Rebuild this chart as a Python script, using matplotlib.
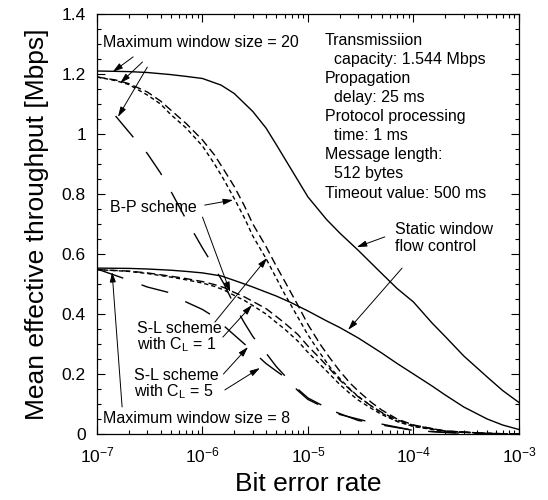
import math
import matplotlib
matplotlib.use("Agg")
import matplotlib.pyplot as plt
from matplotlib.ticker import MultipleLocator, LogLocator, FuncFormatter, NullFormatter

plt.rcParams["font.family"] = "Liberation Sans"
plt.rcParams["mathtext.fontset"] = "custom"
plt.rcParams["mathtext.rm"] = "Liberation Sans"
plt.rcParams["mathtext.it"] = "Liberation Sans:italic"

# static window flow control (solid lines)
ber_static = [1e-7, 2e-7, 3e-7, 5e-7, 7e-7, 1e-6, 1.5e-6, 2e-6, 3e-6, 4e-6, 5e-6, 7e-6,
              1e-5, 1.5e-5, 2e-5, 3e-5, 5e-5, 7e-5, 1e-4, 1.5e-4, 2e-4, 3e-4, 5e-4, 7e-4, 1e-3]
static_w20 = [1.210, 1.208, 1.205, 1.198, 1.192, 1.185, 1.163, 1.135, 1.075, 1.02, 0.965, 0.88,
              0.79, 0.715, 0.67, 0.612, 0.535, 0.485, 0.44, 0.37, 0.325, 0.26, 0.19, 0.145, 0.105]
static_w8 = [0.553, 0.552, 0.550, 0.546, 0.542, 0.537, 0.527, 0.512, 0.49, 0.473, 0.46, 0.437,
             0.41, 0.377, 0.355, 0.32, 0.27, 0.235, 0.20, 0.16, 0.13, 0.09, 0.05, 0.03, 0.015]

# max window size = 20, B-P scheme and S-L scheme C_L = 1
ber_w20 = [1e-7, 1.5e-7, 2e-7, 3e-7, 4e-7, 5e-7, 7e-7, 1e-6, 1.3e-6, 1.6e-6, 2e-6, 2.5e-6,
           3e-6, 4e-6, 5e-6, 6e-6, 8e-6, 1e-5, 1.3e-5, 1.6e-5, 2e-5, 2.5e-5, 3e-5, 4e-5,
           5e-5, 7e-5, 1e-4, 2e-4, 5e-4, 1e-3]
bp_w20 = [1.19, 1.178, 1.165, 1.13, 1.10, 1.065, 1.02, 0.96, 0.90, 0.847, 0.785, 0.72,
          0.66, 0.585, 0.52, 0.467, 0.39, 0.33, 0.27, 0.225, 0.185, 0.15, 0.125, 0.093,
          0.07, 0.042, 0.025, 0.008, 0.002, 0.0]
sl1_w20 = [1.19, 1.18, 1.168, 1.14, 1.11, 1.08, 1.035, 0.98, 0.93, 0.88, 0.825, 0.76,
           0.70, 0.625, 0.56, 0.51, 0.43, 0.365, 0.30, 0.255, 0.21, 0.17, 0.143, 0.105,
           0.08, 0.05, 0.03, 0.01, 0.002, 0.0]

# max window size = 8, B-P scheme and S-L scheme C_L = 1
ber_w8 = [1e-7, 2e-7, 3e-7, 5e-7, 7e-7, 1e-6, 1.3e-6, 1.6e-6, 2e-6, 2.5e-6, 3e-6, 4e-6,
          5e-6, 6e-6, 8e-6, 1e-5, 1.3e-5, 1.6e-5, 2e-5, 2.5e-5, 3e-5, 4e-5, 5e-5, 7e-5,
          1e-4, 2e-4, 5e-4, 1e-3]
bp_w8 = [0.548, 0.542, 0.535, 0.523, 0.514, 0.503, 0.492, 0.48, 0.462, 0.445, 0.428, 0.40,
         0.372, 0.35, 0.31, 0.272, 0.232, 0.20, 0.165, 0.135, 0.113, 0.085, 0.065, 0.042,
         0.026, 0.009, 0.002, 0.0]
sl1_w8 = [0.548, 0.543, 0.537, 0.526, 0.518, 0.508, 0.498, 0.488, 0.472, 0.457, 0.442, 0.418,
          0.392, 0.37, 0.332, 0.293, 0.252, 0.218, 0.18, 0.148, 0.124, 0.093, 0.072, 0.047,
          0.029, 0.01, 0.002, 0.0]

# S-L scheme C_L = 5
ber_sl5_w20 = [1.5e-7, 2.2e-7, 3e-7, 4e-7, 5e-7, 7e-7, 1e-6, 1.3e-6, 1.6e-6, 2e-6, 2.5e-6,
               3e-6, 4e-6, 5e-6, 6e-6, 8e-6, 1e-5, 2e-5, 5e-5, 1e-4, 3e-4, 1e-3]
sl5_w20 = [1.06, 0.99, 0.935, 0.87, 0.81, 0.715, 0.62, 0.555, 0.50, 0.43, 0.37,
           0.325, 0.27, 0.225, 0.195, 0.15, 0.12, 0.065, 0.03, 0.012, 0.002, 0.0]
ber_sl5_w8 = [1e-7, 2e-7, 3e-7, 5e-7, 7e-7, 1e-6, 1.3e-6, 1.6e-6, 2e-6, 2.5e-6, 3e-6, 4e-6,
              5e-6, 6e-6, 8e-6, 1e-5, 1.5e-5, 2e-5, 3e-5, 5e-5, 1e-4, 2e-4, 5e-4, 1e-3]
sl5_w8 = [0.55, 0.513, 0.49, 0.47, 0.44, 0.415, 0.39, 0.36, 0.33, 0.30, 0.275, 0.235,
          0.21, 0.19, 0.145, 0.115, 0.085, 0.068, 0.045, 0.033, 0.012, 0.005, 0.001, 0.0]

params_text = ("Transmissiion\n  capacity: 1.544 Mbps\nPropagation\n  delay: 25 ms\n"
               "Protocol processing\n  time: 1 ms\nMessage length:\n  512 bytes\n"
               "Timeout value: 500 ms")

fig = plt.figure(figsize=(5.48, 5.0), dpi=100)
ax = fig.add_axes([0.177, 0.132, 0.770, 0.840])

short = (0, (3, 2.2))
medium = (0, (6, 3))
long_ = (0, (20, 14))
c = "black"

ax.plot(ber_static, static_w20, color=c, lw=1.0)
ax.plot(ber_static, static_w8, color=c, lw=1.0)
ax.plot(ber_w20, bp_w20, color=c, lw=1.0, linestyle=short)
ax.plot(ber_w20, sl1_w20, color=c, lw=1.0, linestyle=medium)
ax.plot(ber_w8, bp_w8, color=c, lw=1.0, linestyle=short)
ax.plot(ber_w8, sl1_w8, color=c, lw=1.0, linestyle=medium)
ax.plot(ber_sl5_w20, sl5_w20, color=c, lw=1.0, linestyle=long_)
ax.plot(ber_sl5_w8, sl5_w8, color=c, lw=1.0, linestyle=long_)

ax.set_xscale("log")
ax.set_xlim(1e-7, 1e-3)
ax.set_ylim(0, 1.4)
ax.yaxis.set_major_locator(MultipleLocator(0.2))
ax.yaxis.set_minor_locator(MultipleLocator(0.05))
ax.yaxis.set_major_formatter(FuncFormatter(lambda v, p: "%g" % round(v, 2)))
ax.xaxis.set_major_locator(LogLocator(base=10, numticks=10))
ax.xaxis.set_minor_locator(LogLocator(base=10, subs=range(2, 10), numticks=20))
ax.xaxis.set_minor_formatter(NullFormatter())
ax.xaxis.set_major_formatter(FuncFormatter(lambda v, p: "$10^{%d}$" % round(math.log10(v))))

ax.tick_params(which="both", direction="in", top=True, right=True, width=0.8, labelsize=12.5, pad=8)
ax.tick_params(which="major", length=6)
ax.tick_params(which="minor", length=3)
for s in ax.spines.values():
    s.set_linewidth(0.9)

ax.set_xlabel("Bit error rate", fontsize=19, labelpad=5)
ax.set_ylabel("Mean effective throughput [Mbps]", fontsize=19, labelpad=9)

fs = 11.5
ax.text(0.014, 0.933, "Maximum window size = 20", transform=ax.transAxes, fontsize=fs, va="center")
ax.text(0.540, 0.955, params_text, transform=ax.transAxes, fontsize=fs, va="top", linespacing=1.34)
ax.text(0.706, 0.505, "Static window\nflow control", transform=ax.transAxes, fontsize=fs, va="top", linespacing=1.2)
ax.text(0.031, 0.540, "B-P scheme", transform=ax.transAxes, fontsize=fs, va="center")
ax.text(0.095, 0.270, "S-L scheme\nwith C$_\\mathregular{L}$ = 1", transform=ax.transAxes, fontsize=fs, va="top", linespacing=1.0)
ax.text(0.088, 0.158, "S-L scheme\nwith C$_\\mathregular{L}$ = 5", transform=ax.transAxes, fontsize=fs, va="top", linespacing=1.0)
ax.text(0.014, 0.038, "Maximum window size = 8", transform=ax.transAxes, fontsize=fs, va="center")

arrows = [
    ((2.2e-7, 1.257), (1.41e-7, 1.207)),
    ((2.7e-7, 1.24), (1.66e-7, 1.17)),
    ((3.0e-7, 1.223), (1.58e-7, 1.057)),
    ((1.05e-6, 0.763), (1.95e-6, 0.78)),
    ((1.0e-6, 0.723), (1.83e-6, 0.473)),
    ((1.31e-6, 0.373), (4.1e-6, 0.587)),
    ((1.56e-6, 0.323), (2.95e-6, 0.43)),
    ((1.58e-6, 0.20), (2.7e-6, 0.29)),
    ((1.63e-6, 0.147), (3.5e-6, 0.22)),
    ((1.73e-7, 0.09), (1.39e-7, 0.54)),
    ((5.35e-5, 0.657), (2.9e-5, 0.623)),
    ((7.8e-5, 0.553), (2.4e-5, 0.347)),
]
for start, tip in arrows:
    ax.annotate("", xy=tip, xytext=start,
                arrowprops=dict(arrowstyle="-|>,head_length=0.6,head_width=0.18",
                                color=c, lw=0.7, shrinkA=0, shrinkB=0))

fig.savefig("out.png", dpi=100)
